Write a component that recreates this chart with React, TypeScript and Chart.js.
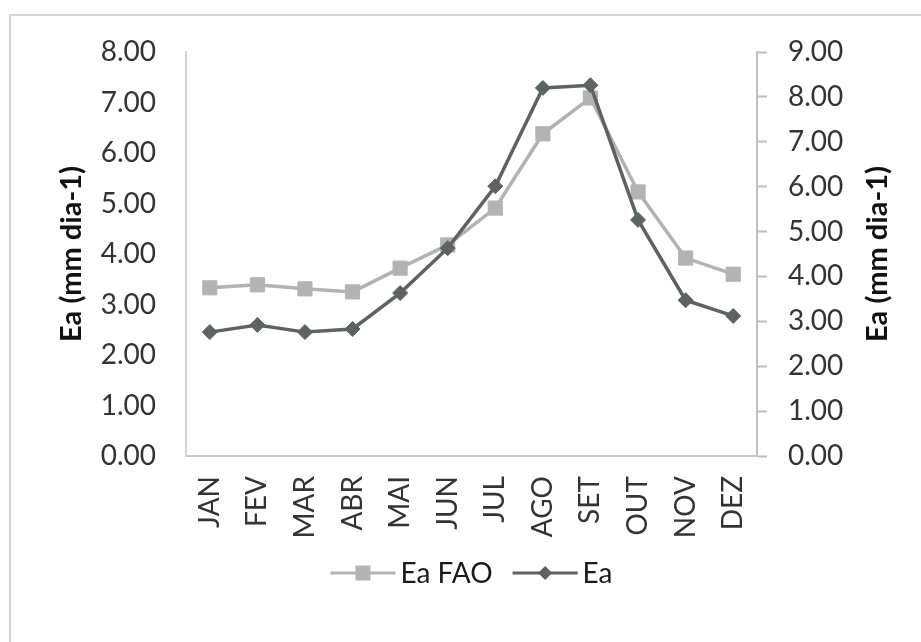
import React, { useEffect, useRef } from "react";
import { Chart, registerables } from "chart.js";

Chart.register(...registerables);

const months = ["JAN", "FEV", "MAR", "ABR", "MAI", "JUN", "JUL", "AGO", "SET", "OUT", "NOV", "DEZ"];
const eaFao = [3.33, 3.39, 3.31, 3.25, 3.72, 4.18, 4.91, 6.38, 7.09, 5.23, 3.92, 3.6];
const ea = [2.76, 2.92, 2.76, 2.83, 3.63, 4.63, 6.01, 8.2, 8.26, 5.26, 3.47, 3.12];
const leftAxisMax = 8;
const rightAxisMax = 9;
const axisTitle = "Ea (mm dia-1)";
const seriesNames = ["Ea FAO", "Ea"];

const FAO_COLOR = "#b3b3b3";
const EA_COLOR = "#5d6365";
const FONT = "Lato";

const W = 921;
const H = 642;

const decorPlugin = {
  id: "decor",
  afterDraw(chart: any) {
    const ctx = chart.ctx as CanvasRenderingContext2D;
    const area = chart.chartArea;
    const midY = (area.top + area.bottom) / 2;
    ctx.save();
    // axis titles (both read bottom-to-top)
    ctx.fillStyle = "#111111";
    ctx.font = `bold 29px ${FONT}`;
    ctx.textAlign = "center";
    ctx.textBaseline = "middle";
    [72, 878].forEach((x) => {
      ctx.save();
      ctx.translate(x, midY);
      ctx.rotate(-Math.PI / 2);
      ctx.fillText(axisTitle, 0, 0);
      ctx.restore();
    });
    // legend
    ctx.font = `28px ${FONT}`;
    ctx.textAlign = "left";
    const lineLen = 65;
    const gapText = 5;
    const gapItems = 20;
    const widths = seriesNames.map((n) => lineLen + gapText + ctx.measureText(n).width);
    const total = widths[0] + gapItems + widths[1];
    let x = (area.left + area.right) / 2 - total / 2;
    const y = 573;
    const colors = [FAO_COLOR, EA_COLOR];
    seriesNames.forEach((name, i) => {
      ctx.strokeStyle = colors[i];
      ctx.lineWidth = 3;
      ctx.beginPath();
      ctx.moveTo(x, y);
      ctx.lineTo(x + lineLen, y);
      ctx.stroke();
      const cx = x + lineLen / 2;
      ctx.fillStyle = colors[i];
      if (i === 0) {
        ctx.fillRect(cx - 7.5, y - 7.5, 15, 15);
      } else {
        ctx.beginPath();
        ctx.moveTo(cx - 7, y);
        ctx.lineTo(cx, y - 7);
        ctx.lineTo(cx + 7, y);
        ctx.lineTo(cx, y + 7);
        ctx.closePath();
        ctx.fill();
      }
      ctx.fillStyle = "#1a1a1a";
      ctx.textBaseline = "middle";
      ctx.fillText(name, x + lineLen + gapText, y + 1);
      x += widths[i] + gapItems;
    });
    ctx.restore();
  },
};

export default function App() {
  const ref = useRef<HTMLCanvasElement | null>(null);
  useEffect(() => {
    if (!ref.current) return;
    const chart = new Chart(ref.current, {
      type: "line",
      data: {
        labels: months,
        datasets: [
          {
            label: seriesNames[0],
            data: eaFao,
            yAxisID: "y",
            borderColor: FAO_COLOR,
            backgroundColor: FAO_COLOR,
            borderWidth: 3.5,
            pointStyle: "rect",
            pointRadius: 10,
            pointBorderWidth: 1,
            pointBorderColor: FAO_COLOR,
            pointBackgroundColor: FAO_COLOR,
            tension: 0,
            order: 1,
          },
          {
            label: seriesNames[1],
            data: ea,
            yAxisID: "y1",
            borderColor: EA_COLOR,
            backgroundColor: EA_COLOR,
            borderWidth: 3.5,
            pointStyle: "rectRot",
            pointRadius: 7.5,
            pointBorderWidth: 1,
            pointBorderColor: EA_COLOR,
            pointBackgroundColor: EA_COLOR,
            tension: 0,
            order: 0,
          },
        ],
      },
      options: {
        animation: false,
        responsive: false,
        maintainAspectRatio: false,
        layout: { padding: { top: 52, left: 0, right: 0, bottom: 0 } },
        plugins: {
          legend: { display: false },
          tooltip: { enabled: false },
          title: { display: false },
        },
        scales: {
          x: {
            offset: true,
            grid: { display: false, drawTicks: false },
            border: { display: true, color: "#c8c8c8", width: 2 },
            ticks: {
              font: { family: FONT, size: 28 },
              color: "#333333",
              minRotation: 90,
              maxRotation: 90,
              padding: 20,
              autoSkip: false,
            },
            afterFit(scale: any) {
              scale.height = H - 456;
            },
          },
          y: {
            position: "left",
            min: 0,
            max: leftAxisMax,
            grid: { display: false, drawTicks: false },
            border: { display: true, color: "#d4d4d4", width: 2 },
            ticks: {
              stepSize: 1,
              font: { family: FONT, size: 28 },
              color: "#333333",
              padding: 30,
              callback: (v: any) => Number(v).toFixed(2),
            },
            afterFit(scale: any) {
              scale.width = 186;
            },
          },
          y1: {
            position: "right",
            min: 0,
            max: rightAxisMax,
            grid: {
              display: true,
              drawOnChartArea: false,
              drawTicks: true,
              tickLength: 10,
              tickColor: "#bfbfbf",
              tickWidth: 2,
            },
            border: { display: true, color: "#bfbfbf", width: 2 },
            ticks: {
              stepSize: 1,
              font: { family: FONT, size: 28 },
              color: "#333333",
              padding: 21,
              callback: (v: any) => Number(v).toFixed(2),
            },
            afterFit(scale: any) {
              scale.width = W - 757;
            },
          },
        },
      },
      plugins: [decorPlugin],
    });
    return () => chart.destroy();
  }, []);

  return (
    <div
      style={{
        position: "fixed",
        left: 0,
        top: 0,
        width: W,
        height: H,
        overflow: "hidden",
        background: "#ffffff",
      }}
    >
      <div
        style={{
          position: "absolute",
          left: 9,
          top: 14,
          width: 1000,
          height: 1000,
          border: "2px solid #d6d6d6",
        }}
      />
      <canvas ref={ref} width={W} height={H} style={{ position: "absolute", left: 0, top: 0 }} />
    </div>
  );
}
